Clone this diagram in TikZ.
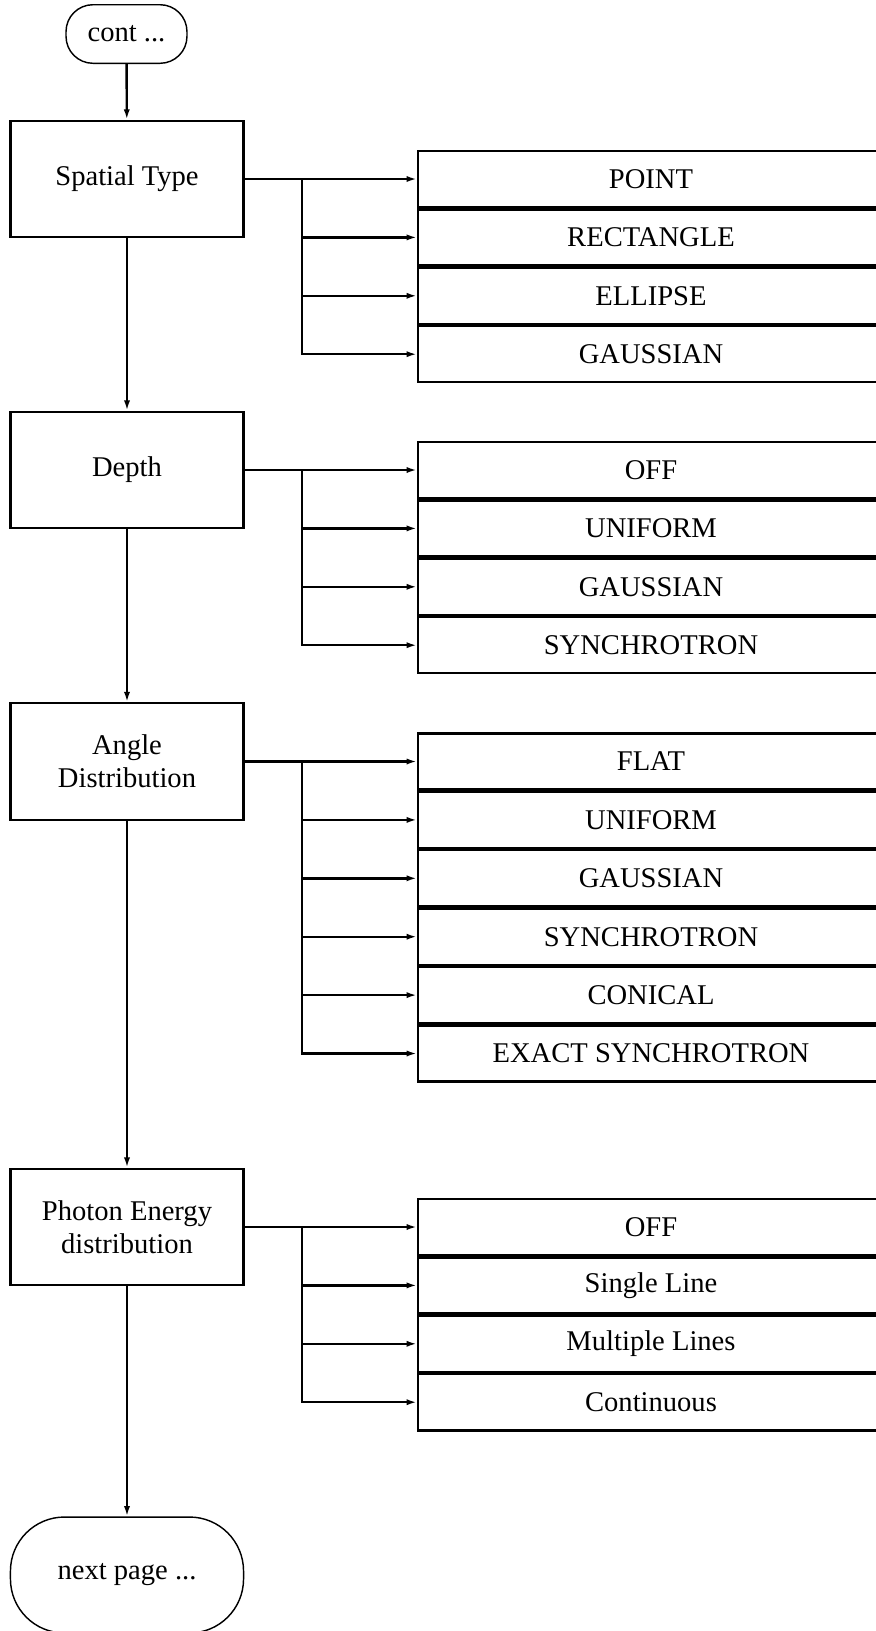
\documentclass[tikz,border=0pt]{standalone}
\usepackage{fontspec}
\setmainfont{Liberation Serif}
\usetikzlibrary{arrows.meta}

\begin{document}
\begin{tikzpicture}[x=0.42pt, y=-0.42pt, >={Latex[length=4.3pt,width=2.6pt]},
		every node/.style={font=\fontsize{12}{14}\selectfont},
		mainbox/.style={draw, line width=1pt, minimum width=97.9pt, minimum height=48.9pt, align=center, inner sep=0pt},
		optbox/.style={draw, line width=1pt, minimum width=195.7pt, minimum height=23.6pt, inner sep=0pt},
		terminal/.style={draw, line width=0.6pt, rounded corners=#1, inner sep=0pt},
		link/.style={->, line width=1pt}]
		\useasboundingbox (0,0) rectangle (876,1631);

		% Draw the start and end points
		\node[terminal=11.3pt, minimum width=50.8pt, minimum height=24.6pt] (cont) at (126.5,34) {cont ...};
		\node[terminal=22.7pt, minimum width=97.9pt, minimum height=48.7pt] (next) at (127,1575) {next page ...};

		% Draw the parameter boxes
		\node[mainbox] (st) at (127,179) {Spatial Type};
		\node[mainbox] (dp) at (127,470) {Depth};
		\node[mainbox] (ad) at (127,761.5) {Angle\\Distribution};
		\node[mainbox] (pe) at (127,1227) {Photon Energy\\distribution};

		% Draw the choices
		\foreach \lbl [count=\i] in {POINT,RECTANGLE,ELLIPSE,GAUSSIAN}
			\node[optbox] (st-\i) at (651,{179+58.4*(\i-1)}) {\lbl};
		\foreach \lbl [count=\i] in {OFF,UNIFORM,GAUSSIAN,SYNCHROTRON}
			\node[optbox] (dp-\i) at (651,{470+58.4*(\i-1)}) {\lbl};
		\foreach \lbl [count=\i] in {FLAT,UNIFORM,GAUSSIAN,SYNCHROTRON,CONICAL,EXACT SYNCHROTRON}
			\node[optbox] (ad-\i) at (651,{761.5+58.4*(\i-1)}) {\lbl};
		\foreach \lbl [count=\i] in {OFF,Single Line,Multiple Lines,Continuous}
			\node[optbox] (pe-\i) at (651,{1227+58.4*(\i-1)}) {\lbl};

		% Main flow
		\draw[link] (cont) -- (st);
		\draw[link] (st) -- (dp);
		\draw[link] (dp) -- (ad);
		\draw[link] (ad) -- (pe);
		\draw[link] (pe) -- (next);

		% Branches to the choices
		\coordinate (st-br) at (302,179);
		\coordinate (dp-br) at (302,470);
		\coordinate (ad-br) at (302,761.5);
		\coordinate (pe-br) at (302,1227);
		\draw[link] (st) -- (st-1);
		\draw[link] (dp) -- (dp-1);
		\draw[link] (ad) -- (ad-1);
		\draw[link] (pe) -- (pe-1);
		\foreach \i in {2,3,4} {
			\draw[link] (st-br) |- (st-\i.west);
			\draw[link] (dp-br) |- (dp-\i.west);
			\draw[link] (pe-br) |- (pe-\i.west);
		}
		\foreach \i in {2,...,6}
			\draw[link] (ad-br) |- (ad-\i.west);

\end{tikzpicture}
\end{document}
